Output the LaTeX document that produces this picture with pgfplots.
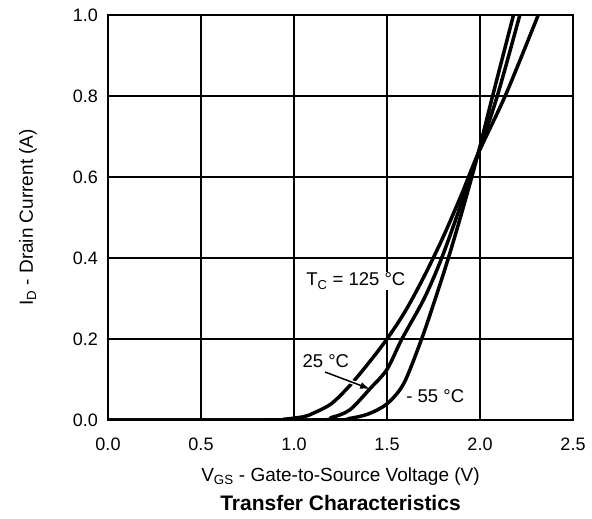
\documentclass[border=0pt]{standalone}
\usepackage{fontspec}
\setmainfont{Liberation Sans}
\usepackage{pgfplots}
\pgfplotsset{compat=1.18}
\usetikzlibrary{arrows.meta}
\begin{document}
\begin{tikzpicture}
\begin{axis}[
  scale only axis, width=465pt, height=405pt,
  xmin=0, xmax=2.5, ymin=0, ymax=1.0,
  xtick={0,0.5,...,2.5}, ytick={0,0.2,...,1.0},
  grid=major, major grid style={black, line width=1.3pt},
  axis line style={line width=2.4pt},
  major tick length=0pt,
  /pgf/number format/assume math mode=true,
  /pgf/number format/fixed, /pgf/number format/fixed zerofill, /pgf/number format/precision=1,
  tick label style={font=\fontsize{18}{21}\selectfont},
  xticklabel style={anchor=base, yshift=-30.5pt},
  yticklabel style={anchor=east, inner sep=0pt, xshift=-10pt},
]
\addplot[black, line width=3.5pt, smooth, tension=0.5] coordinates {
(0,0) (0.85,0) (0.95,0.002) (1.05,0.008) (1.1,0.016) (1.2,0.04) (1.3,0.085) (1.4,0.14) (1.5,0.2) (1.6,0.27) (1.7,0.355) (1.8,0.45) (1.9,0.556) (1.99,0.658) (2.14,0.805) (2.313,1.0)
};
\addplot[black, line width=3.5pt, smooth, tension=0.5] coordinates {
(0,0) (1.1,0) (1.2,0.006) (1.3,0.025) (1.41,0.078) (1.5,0.125) (1.58,0.2) (1.7,0.3) (1.794,0.4) (1.9,0.535) (1.99,0.658) (2.093,0.8) (2.214,1.0)
};
\addplot[black, line width=3.5pt, smooth, tension=0.5] coordinates {
(0,0) (1.2,0) (1.3,0.004) (1.4,0.015) (1.5,0.04) (1.59,0.09) (1.686,0.2) (1.76,0.3) (1.83,0.4) (1.91,0.525) (1.99,0.658) (2.065,0.795) (2.18,1.0)
};
\draw[white, line width=4pt, shorten <=8pt, shorten >=14pt] (axis cs:1.167,0.1185) -- (axis cs:1.409,0.0765);
\draw[black, line width=1.5pt, -{Latex[length=10pt,width=7pt]}] (axis cs:1.167,0.1185) -- (axis cs:1.409,0.0765);
\node[anchor=west, fill=white, inner sep=1pt, font=\fontsize{18.5}{21}\selectfont] at (axis cs:1.06,0.343) {T\textsubscript{C} = 125 °C};
\node[anchor=west, inner sep=0pt, font=\fontsize{18.5}{21}\selectfont] at (axis cs:1.045,0.146) {25 °C};
\node[anchor=west, inner sep=0pt, font=\fontsize{18.5}{21}\selectfont] at (axis cs:1.603,0.059) {- 55 °C};
\coordinate (sw) at (rel axis cs:0,0);
\coordinate (ne) at (rel axis cs:1,1);
\coordinate (wm) at (rel axis cs:0,0.5);
\coordinate (bm) at (rel axis cs:0.5,0);
\end{axis}
\node[rotate=90, anchor=base, font=\fontsize{19}{22}\selectfont] at ([xshift=-75pt]wm) {I\textsubscript{D} - Drain Current (A)};
\node[anchor=base, font=\fontsize{19}{22}\selectfont] at ([yshift=-61pt]bm) {V\textsubscript{GS} - Gate-to-Source Voltage (V)};
\node[anchor=base, font=\fontsize{21}{24}\selectfont\bfseries] at ([yshift=-90pt]bm) {Transfer Characteristics};
\pgfresetboundingbox
\path[use as bounding box] ([shift={(-108pt,-98pt)}]sw) rectangle ([shift={(19pt,15pt)}]ne);
\end{tikzpicture}
\end{document}
